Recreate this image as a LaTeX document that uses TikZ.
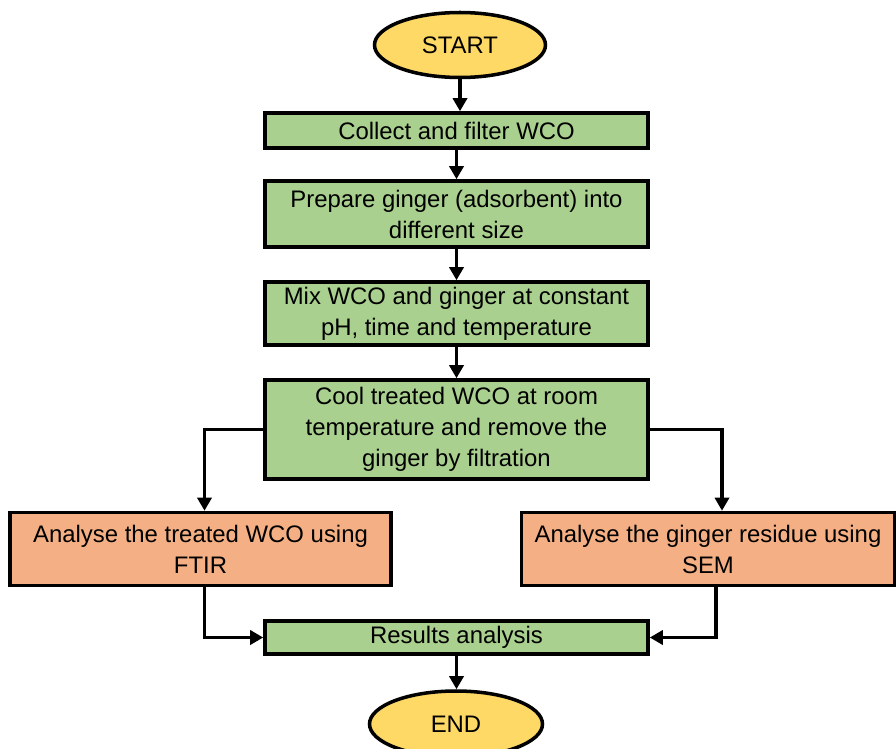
\documentclass[tikz,border=0pt]{standalone}
\usepackage{fontspec}
\setmainfont{Liberation Sans}
\usepackage{tikz}
\usetikzlibrary{shapes.geometric,arrows.meta}

\definecolor{stepgreen}{HTML}{A9D08E}
\definecolor{testorange}{HTML}{F4B084}
\definecolor{termyellow}{HTML}{FFD966}

\begin{document}
\begin{tikzpicture}[line width=2pt, >={Triangle[length=0.26cm,width=0.28cm]}]
	\tikzstyle{every node} = [font=\fontsize{13.6}{17.6}\selectfont, align=center, line width=2pt]
	\tikzstyle{term} = [ellipse, draw, fill=termyellow, minimum width=3.42cm, minimum height=1.30cm, inner sep=0pt]
	\tikzstyle{stepbox} = [rectangle, draw, fill=stepgreen, minimum width=7.66cm, inner sep=0pt]
	\tikzstyle{testbox} = [rectangle, draw, fill=testorange, minimum height=1.46cm, inner sep=0pt]
	\useasboundingbox (0,0) rectangle (17.92,-14.98);
	\node[term] (start) at (9.20, -0.90) {START};
	\node[stepbox, minimum height=0.70cm] (collect) at (9.13, -2.61) {Collect and filter WCO};
	\node[stepbox, minimum height=1.32cm] (prepare) at (9.13, -4.28) {Prepare ginger (adsorbent) into\\different size};
	\node[stepbox, minimum height=1.26cm] (mix) at (9.13, -6.27) {Mix WCO and ginger at constant\\pH, time and temperature};
	\node[stepbox, minimum height=1.98cm] (cool) at (9.13, -8.59) {Cool treated WCO at room\\temperature and remove the\\ginger by filtration};
	\node[testbox, minimum width=7.62cm] (ftir) at (4.01, -10.98) {Analyse the treated WCO using\\FTIR};
	\node[testbox, minimum width=7.46cm] (sem) at (14.16, -10.98) {Analyse the ginger residue using\\SEM};
	\node[stepbox, minimum height=0.66cm] (results) at (9.13, -12.75) {Results analysis};
	\node[term, minimum width=3.46cm, minimum height=1.32cm] (end) at (9.12, -14.48) {END};
	\draw [->] (start)--(start |- collect.north);
	\draw [->] (collect)--(prepare);
	\draw [->] (prepare)--(mix);
	\draw [->] (mix)--(cool);
	\draw [->] (cool.west) -| ([xshift=0.08cm]ftir.north);
	\draw [->] (cool.east) -| ([xshift=0.28cm]sem.north);
	\draw [->] ([xshift=0.08cm]ftir.south) |- (results.west);
	\draw [->] ([xshift=0.16cm]sem.south) |- (results.east);
	\draw [->] (results)--(results |- end.north);
\end{tikzpicture}
\end{document}
